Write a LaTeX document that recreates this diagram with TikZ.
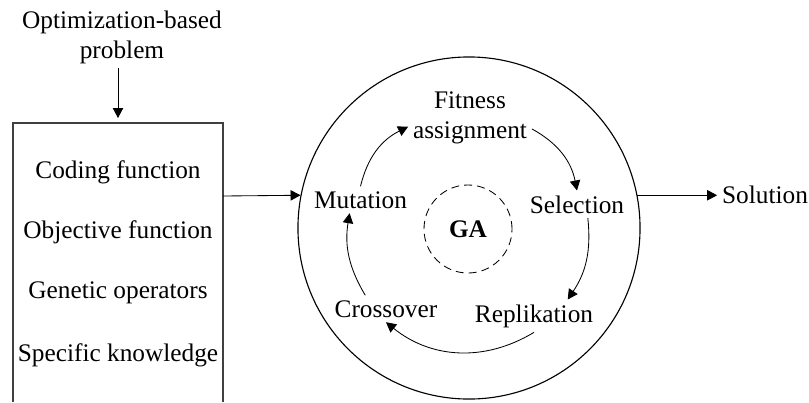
\documentclass[tikz,border=0pt]{standalone}
\usepackage{fontspec}
\setmainfont{Liberation Serif}
\usetikzlibrary{arrows.meta}
\begin{document}
\begin{tikzpicture}[x=0.025cm,y=-0.025cm,font=\fontsize{18}{21.3}\selectfont,
  txt/.style={anchor=base},
  arr/.style={-{Triangle[length=2.5mm,width=2.6mm]},line width=0.6pt}]
  \useasboundingbox (0,0) rectangle (809,402);

  \node[align=center] (prob) at (122,37) {Optimization-based\\problem};
  \coordinate (boxtop) at (118,118);
  \coordinate (boxin) at (223,196);
  \draw[line width=1pt,black!75] (13,402) |- (223,123) -- (223,402);
  \node[txt] (code) at (118,178) {Coding function};
  \node[txt] (obj) at (118,238) {Objective function};
  \node[txt] (gen) at (118,298) {Genetic operators};
  \node[txt] (know) at (118,361) {Specific knowledge};

  \node[circle,draw,line width=0.8pt,minimum size=8.55cm,inner sep=0pt] (ga) at (469,228) {};
  \node[circle,draw,dash pattern=on 2mm off 1.25mm,line width=0.6pt,minimum size=2.2cm,inner sep=0pt,font=\fontsize{18}{21.3}\selectfont\bfseries] (core) at (468,229) {GA};

  \node[txt] (mut) at (360.5,208) {Mutation};
  \node[align=center] (fit) at (470,118) {Fitness\\assignment};
  \node[txt] (sel) at (577,213) {Selection};
  \node[txt] (rep) at (534,322) {Replikation};
  \node[txt] (cro) at (386,317) {Crossover};
  \node[txt] (sol) at (765,203) {Solution};

  \draw[arr] (prob.south -| boxtop) -- (boxtop);
  \draw[arr] (boxin) -- (ga.169);
  \draw[arr] (ga.11) -- (ga.11 -| sol.west);

  \draw[arr] (mut.north) to[bend left=25] (fit.188);
  \draw[arr] (fit.-10) to[bend left=25] (sel.north);
  \draw[arr] (sel.-52) to[bend left=20] (rep.26);
  \draw[arr] (rep.south) to[bend left=35] (cro.south);
  \draw[arr] (cro.147) to[bend left=20] (mut.231);
\end{tikzpicture}
\end{document}
